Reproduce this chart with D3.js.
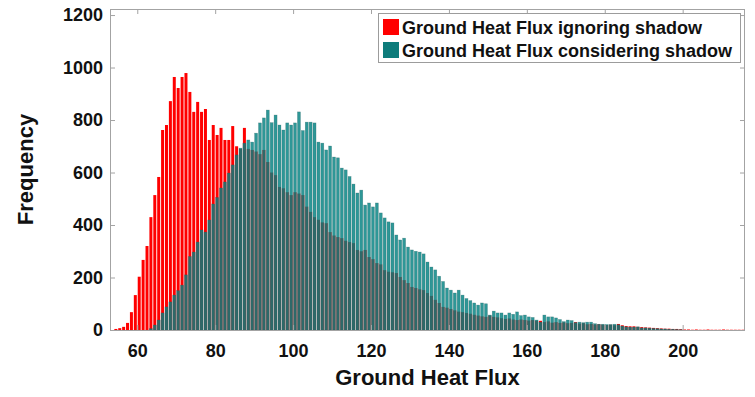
<!DOCTYPE html>
<html>
<head>
<meta charset="utf-8">
<script src="https://cdn.jsdelivr.net/npm/d3@7"></script>
<style>
  html, body { margin: 0; padding: 0; background: #fff; }
  svg { display: block; font-family: "Liberation Sans", Arial, sans-serif; }
</style>
</head>
<body>
<svg id="chart" width="755" height="397"></svg>
<script>
// Histogram counts, one value per unit-wide bin.
const binWidth = 1;

// Ground heat flux ignoring shadow: bins start at 54
const ignoringStart = 54;
const ignoringCounts = [
  4, 7, 12, 27, 68, 133, 203, 267, 320, 430,
  514, 583, 762, 781, 872, 964, 922, 964, 979, 907,
  831, 869, 831, 842, 724, 781, 743, 770, 724, 724,
  777, 700, 690, 770, 690, 686, 680, 670, 686, 640,
  600, 590, 545, 540, 525, 514, 525, 520, 514, 470,
  450, 430, 420, 410, 407, 373, 360, 354, 350, 340,
  335, 331, 305, 300, 305, 278, 270, 255, 250, 228,
  222, 220, 217, 202, 190, 179, 164, 160, 155, 152,
  141, 130, 115, 103, 88, 85, 80, 75, 70, 68,
  65, 62, 58, 55, 52, 50, 55, 50, 48, 45,
  42, 44, 40, 38, 40, 38, 36, 38, 35, 35,
  30, 33, 28, 30, 27, 29, 26, 27, 30, 24,
  26, 22, 23, 21, 22, 20, 19, 20, 18, 23,
  18, 15, 14, 14, 12, 11, 10, 9, 8, 7,
  6, 5, 5, 4, 4, 3, 2, 2, 1, 2,
  1, 1, 2, 1, 1, 1, 2, 1, 1, 1,
  1, 1
];

// Ground heat flux considering shadow: bins start at 63
const consideringStart = 63;
const consideringCounts = [
  5, 19, 38, 65, 88, 107, 133, 150, 171, 210,
  280, 297, 335, 381, 373, 419, 480, 505, 541, 564,
  598, 629, 667, 693, 712, 724, 716, 750, 789, 808,
  838, 790, 819, 781, 762, 789, 781, 789, 831, 760,
  792, 792, 789, 716, 712, 686, 701, 659, 656, 617,
  610, 585, 556, 522, 533, 476, 484, 469, 484, 446,
  427, 412, 408, 362, 343, 350, 316, 305, 300, 297,
  290, 259, 240, 229, 205, 185, 160, 152, 141, 152,
  133, 120, 112, 103, 95, 103, 100, 57, 72, 65,
  65, 57, 65, 60, 69, 55, 57, 50, 48, 38,
  30, 57, 50, 50, 46, 40, 32, 38, 36, 28,
  30, 28, 30, 30, 24, 22, 22, 21, 21, 22,
  20, 15, 12, 11, 11, 12, 8, 8, 7, 6,
  5, 4, 4, 3, 3, 2, 1
];

const xTicks = [60, 80, 100, 120, 140, 160, 180, 200];
const yTicks = [0, 200, 400, 600, 800, 1000, 1200];

const seriesNames = [
  "Ground Heat Flux ignoring shadow",
  "Ground Heat Flux considering shadow"
];
const xTitle = "Ground Heat Flux";
const yTitle = "Frequency";

// ---- layout ----
const svg = d3.select("#chart");
const margin = { left: 110, right: 10, top: 9, bottom: 67 };
const W = 755, H = 397;
const x0 = margin.left, x1 = W - margin.right;
const y0 = H - margin.bottom, y1 = margin.top;

const x = d3.scaleLinear().domain([53, 216]).range([x0, x1]);
const y = d3.scaleLinear().domain([0, 1223]).range([y0, y1]);

const toBins = (start, counts) =>
  counts.map((c, i) => ({ lo: start + i * binWidth, hi: start + (i + 1) * binWidth, c }));

const plot = svg.append("g");
svg.append("clipPath").attr("id", "plotclip")
  .append("rect").attr("x", x0).attr("y", y1).attr("width", x1 - x0).attr("height", y0 - y1);
plot.attr("clip-path", "url(#plotclip)");

const gap = 0.45;
function drawBars(data, fill, opts) {
  plot.append("g").selectAll("rect").data(data).join("rect")
    .attr("x", d => x(d.lo) + gap)
    .attr("width", d => Math.max(0, x(d.hi) - x(d.lo) - 2 * gap))
    .attr("y", d => y(d.c))
    .attr("height", d => y(0) - y(d.c))
    .attr("fill", fill)
    .attr("fill-opacity", opts.opacity)
    .attr("stroke", opts.stroke || "none")
    .attr("stroke-width", opts.strokeWidth || 0)
    .attr("stroke-opacity", opts.strokeOpacity || 1);
}

drawBars(toBins(ignoringStart, ignoringCounts), "#ff0000", { opacity: 1 });
drawBars(toBins(consideringStart, consideringCounts), "#008080",
  { opacity: 0.82, stroke: "#1f5c5c", strokeWidth: 0.5, strokeOpacity: 0.45 });

// ---- axes (box with inward ticks on all four sides) ----
const axisColor = "#a3a3a3";
const styleAxis = g => {
  g.select(".domain").remove();
  g.selectAll(".tick line").attr("stroke", axisColor);
  g.selectAll("text").attr("fill", "#111").attr("font-weight", "bold").attr("font-size", 18)
    .attr("font-family", "'Liberation Sans', Arial, sans-serif");
};

svg.append("g").attr("transform", `translate(0,${y0})`)
  .call(d3.axisBottom(x).tickValues(xTicks).tickSize(-5).tickPadding(14).tickFormat(d3.format("d")))
  .call(styleAxis);
svg.append("g").attr("transform", `translate(0,${y1})`)
  .call(d3.axisTop(x).tickValues(xTicks).tickSize(-5).tickFormat(""))
  .call(styleAxis);
svg.append("g").attr("transform", `translate(${x0},0)`)
  .call(d3.axisLeft(y).tickValues(yTicks).tickSize(-5).tickPadding(7).tickFormat(d3.format("d")))
  .call(styleAxis);
svg.append("g").attr("transform", `translate(${x1},0)`)
  .call(d3.axisRight(y).tickValues(yTicks).tickSize(-5).tickFormat(""))
  .call(styleAxis);

svg.append("rect")
  .attr("x", x0 + 0.5).attr("y", y1 + 0.5)
  .attr("width", x1 - x0 - 1).attr("height", y0 - y1)
  .attr("fill", "none").attr("stroke", axisColor).attr("stroke-width", 1);

// ---- axis titles ----
svg.append("text")
  .attr("x", (x0 + x1) / 2).attr("y", 385)
  .attr("text-anchor", "middle")
  .attr("font-size", 22).attr("font-weight", "bold").attr("fill", "#111")
  .text(xTitle);

svg.append("text")
  .attr("transform", `translate(33,${(y0 + y1) / 2}) rotate(-90)`)
  .attr("text-anchor", "middle")
  .attr("font-size", 22).attr("font-weight", "bold").attr("fill", "#111")
  .text(yTitle);

// ---- legend ----
const legend = svg.append("g").attr("transform", "translate(378,13)");
legend.append("rect").attr("x", 0.5).attr("y", 0.5).attr("width", 362).attr("height", 49)
  .attr("fill", "#fff").attr("stroke", "#9c9c9c").attr("stroke-width", 1);
const swatch = ["#ff0000", "#0e7c7b"];
seriesNames.forEach((name, i) => {
  const row = legend.append("g").attr("transform", `translate(0,${6 + i * 23})`);
  row.append("rect").attr("x", 5).attr("y", 0).attr("width", 16).attr("height", 16)
    .attr("fill", swatch[i]);
  row.append("text").attr("x", 24).attr("y", 15)
    .attr("font-size", 18).attr("font-weight", "bold").attr("fill", "#111")
    .text(name);
});
</script>
</body>
</html>
